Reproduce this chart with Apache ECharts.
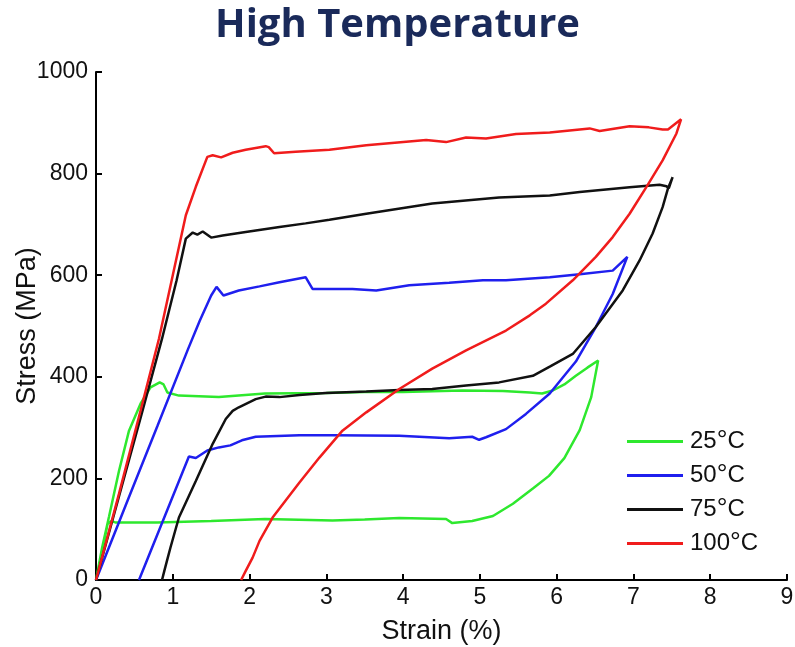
<!DOCTYPE html>
<html>
<head>
<meta charset="utf-8">
<script src="https://cdn.jsdelivr.net/npm/echarts@6/dist/echarts.min.js"></script>
<style>
html,body{margin:0;padding:0;background:#fff;}
#chart{width:795px;height:647px;}
</style>
</head>
<body>
<div id="chart"></div>
<script>
var seriesNames = ['25°C', '50°C', '75°C', '100°C'];
var seriesColors = ['#2ee82e', '#1f1fee', '#111111', '#f01c1c'];
var xTicks = [0, 1, 2, 3, 4, 5, 6, 7, 8, 9];
var yTicks = [0, 200, 400, 600, 800, 1000];

var curve25 = [
  [0,0],[0.08,64],[0.17,125],[0.3,215],[0.43,294],[0.58,347],[0.71,379],[0.83,389],[0.88,385],[0.93,369],
  [1.08,363],[1.6,360],[2.2,367],[3.0,368],[3.5,370],[4.0,370],[4.77,373],[5.3,372],[5.65,369],[5.81,367],
  [5.95,373],[6.1,385],[6.25,402],[6.4,418],[6.54,432],
  [6.45,360],[6.3,295],[6.1,240],[5.9,205],[5.69,180],[5.43,150],[5.17,126],[4.9,116],[4.64,112],[4.56,120],
  [3.95,122],[3.5,119],[3.08,117],[2.2,120],[1.5,116],[0.8,113],[0.26,113],[0.2,116],[0.15,110],[0.1,70],[0.04,31],[0,0]
];
var curve50 = [
  [0,0],[0.4,152],[0.8,303],[1.2,455],[1.35,510],[1.5,560],[1.57,577],[1.66,560],[1.86,570],[2.13,578],
  [2.39,586],[2.73,596],[2.82,573],[3.34,573],[3.65,570],[4.08,580],[4.6,585],[5.04,590],[5.34,590],[5.91,596],
  [6.3,602],[6.73,609],[6.92,636],
  [6.73,563],[6.51,498],[6.25,430],[5.91,367],[5.6,327],[5.34,297],[5.08,281],[4.99,276],[4.9,282],[4.6,279],
  [3.95,284],[3.08,285],[2.65,285],[2.08,282],[1.9,275],[1.75,265],[1.6,261],[1.45,255],[1.3,240],[1.21,243],[0.56,0]
];
var curve75 = [
  [0,0],[0.3,165],[0.6,330],[0.86,475],[1.05,590],[1.17,672],[1.26,684],[1.32,680],[1.39,686],[1.5,674],
  [1.65,678],[1.95,685],[2.39,695],[2.73,702],[3.04,709],[3.52,721],[4.38,741],[5.25,753],[5.91,757],[6.3,764],
  [6.95,773],[7.34,778],[7.43,775],[7.46,771],[7.51,793],
  [7.45,771],[7.38,734],[7.25,682],[7.08,629],[6.86,570],[6.51,498],[6.21,445],[5.91,420],[5.69,402],[5.25,389],
  [4.82,383],[4.38,376],[3.95,374],[3.52,371],[2.99,368],[2.65,364],[2.39,360],[2.21,361],[2.08,356],[1.86,340],
  [1.78,333],[1.69,317],[1.52,268],[1.3,195],[1.08,123],[0.97,64],[0.93,41],[0.89,18],[0.86,0]
];
var curve100 = [
  [0,0],[0.3,170],[0.6,345],[0.82,475],[1.0,600],[1.17,718],[1.3,774],[1.45,833],[1.52,836],[1.63,832],
  [1.78,841],[1.95,847],[2.21,854],[2.25,852],[2.32,840],[2.6,843],[3.04,847],[3.52,856],[4.3,866],[4.56,862],
  [4.82,871],[5.08,869],[5.47,878],[5.91,881],[6.43,889],[6.56,884],[6.95,893],[7.2,891],[7.38,887],[7.45,887],[7.62,907],
  [7.56,879],[7.38,826],[7.17,774],[6.95,721],[6.73,675],[6.51,636],[6.21,590],[5.86,544],[5.65,521],[5.34,491],
  [4.82,452],[4.38,416],[3.95,376],[3.52,330],[3.21,294],[2.91,241],[2.65,192],[2.3,123],[2.13,77],[2.04,44],[1.95,18],[1.89,0]
];
var curves = [curve25, curve50, curve75, curve100];

var chart = echarts.init(document.getElementById('chart'), null, {renderer: 'canvas'});
var font = 'Liberation Sans, Arial, sans-serif';

var series = seriesNames.map(function (n, i) {
  return {
    name: n,
    type: 'line',
    data: curves[i],
    showSymbol: false,
    symbol: 'none',
    smooth: false,
    lineStyle: {color: seriesColors[i], width: 2.5},
    itemStyle: {color: seriesColors[i]},
    z: 2 + i
  };
});

chart.setOption({
  animation: false,
  backgroundColor: '#ffffff',
  title: {
    text: 'High Temperature',
    left: 'center',
    top: 1,
    textStyle: {fontFamily: 'Open Sans, sans-serif', fontWeight: 'bold', fontSize: 40, color: '#1a2a5a'}
  },
  grid: {left: 96, right: 8, top: 72, bottom: 67, containLabel: false, outerBoundsMode: 'none'},
  legend: {
    orient: 'vertical',
    left: 622,
    top: 423,
    icon: 'rect',
    itemWidth: 56,
    itemHeight: 3,
    itemGap: 7,
    data: seriesNames,
    formatter: function (name) {
      var num = name.replace('°C', '');
      return '{n|' + num + '}{s|°}{n|C}';
    },
    textStyle: {
      padding: [0, 0, 0, 2],
      rich: {
        n: {fontFamily: font, fontSize: 24, color: '#111', lineHeight: 24},
        s: {fontFamily: font, fontSize: 27, color: '#111', lineHeight: 24}
      }
    }
  },
  xAxis: {
    type: 'value',
    min: 0, max: 9, interval: 1,
    name: 'Strain (%)',
    nameLocation: 'middle',
    nameGap: 38,
    nameMoveOverlap: false,
    nameTextStyle: {fontFamily: font, fontSize: 27, color: '#111'},
    axisLine: {show: true, onZero: false, lineStyle: {color: '#000', width: 2}},
    axisTick: {show: true, inside: true, length: 6, lineStyle: {color: '#000', width: 2}},
    axisLabel: {fontFamily: font, fontSize: 23, color: '#111', margin: 6},
    splitLine: {show: false}
  },
  yAxis: {
    type: 'value',
    min: 0, max: 1000, interval: 200,
    name: 'Stress (MPa)',
    nameLocation: 'middle',
    nameGap: 55,
    nameMoveOverlap: false,
    nameTextStyle: {fontFamily: font, fontSize: 27, color: '#111'},
    axisLine: {show: true, onZero: false, lineStyle: {color: '#000', width: 2}},
    axisTick: {show: true, inside: true, length: 6, lineStyle: {color: '#000', width: 2}},
    axisLabel: {fontFamily: font, fontSize: 23, color: '#111', margin: 8, formatter: function (v) { return String(v); }},
    splitLine: {show: false}
  },
  series: series
});
</script>
</body>
</html>
